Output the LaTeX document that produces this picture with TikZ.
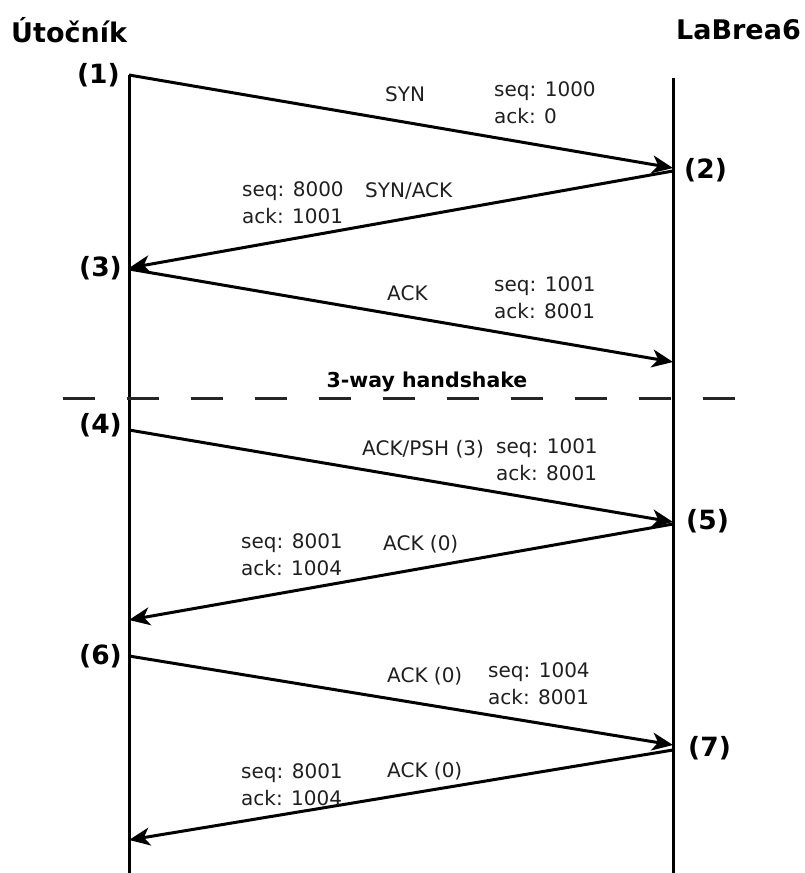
\documentclass[tikz,border=0pt]{standalone}
\usepackage{fontspec}
\setmainfont{DejaVu Sans}
\usetikzlibrary{arrows.meta}
\begin{document}
\begin{tikzpicture}[x=1pt,y=-1pt,
  life/.style={line width=3pt},
  msg/.style={line width=3pt,-{Stealth[length=21pt,width=18pt,inset=6pt]}},
  lbl/.style={font=\fontsize{20}{24}\selectfont,anchor=west,inner sep=0pt,text=black!88},
  num/.style={font=\fontsize{26.5}{30}\selectfont\bfseries,inner sep=0pt},
  ttl/.style={font=\fontsize{27}{32}\selectfont\bfseries,inner sep=0pt}]
\useasboundingbox (0,0) rectangle (804,873);
% lifelines
\coordinate (La) at (129,75);
\coordinate (Lb) at (129,873);
\coordinate (Ra) at (673,78);
\coordinate (Rb) at (673,873);
\draw[life] (La) -- (Lb);
\draw[life] (Ra) -- (Rb);
% titles
\node[ttl,anchor=west] (t1) at (11,30) {Útočník};
\node[ttl,anchor=east] (t2) at (801,30) {LaBrea6};
% message points
\coordinate (p1) at (129,75);
\coordinate (q1) at (673,168);
\coordinate (q2) at (673,171);
\coordinate (p2) at (129,268);
\coordinate (p3) at (129,269);
\coordinate (q3) at (673,362);
\coordinate (p4) at (129,430);
\coordinate (q4) at (673,522);
\coordinate (q5) at (673,524);
\coordinate (p5) at (129,620);
\coordinate (p6) at (129,656);
\coordinate (q6) at (673,745);
\coordinate (q7) at (673,750);
\coordinate (p7) at (129,840);
\draw[msg] (p1) -- (q1);
\draw[msg] (q2) -- (p2);
\draw[msg] (p3) -- (q3);
\draw[msg] (p4) -- (q4);
\draw[msg] (q5) -- (p5);
\draw[msg] (p6) -- (q6);
\draw[msg] (q7) -- (p7);
% step numbers
\node[num,anchor=east] (n1) at (120,75) {(1)};
\node[num,anchor=west] (n2) at (684,170) {(2)};
\node[num,anchor=east] (n3) at (122,268) {(3)};
\node[num,anchor=east] (n4) at (122,425) {(4)};
\node[num,anchor=west] (n5) at (686,521) {(5)};
\node[num,anchor=east] (n6) at (122,656) {(6)};
\node[num,anchor=west] (n7) at (688,748) {(7)};
% handshake separator
\coordinate (d1) at (63,398);
\coordinate (d2) at (737,398);
\draw[line width=3pt,black!85,dash pattern=on 32pt off 32pt] (d1) -- (d2);
\node[font=\fontsize{20.5}{24}\selectfont\bfseries,inner sep=0pt] (hs) at (427,382) {3-way handshake};
% labels 1
\node[lbl] (l1a) at (385,94) {SYN};
\node[lbl] (l1b) at (494,91) {seq: 1000};
\node[lbl] (l1c) at (494,116) {ack: 0};
% labels 2
\node[lbl] (l2a) at (242,191) {seq: 8000};
\node[lbl] (l2b) at (242,216) {ack: 1001};
\node[lbl] (l2c) at (365,191) {SYN/ACK};
% labels 3
\node[lbl] (l3a) at (387,293) {ACK};
\node[lbl] (l3b) at (494,286) {seq: 1001};
\node[lbl] (l3c) at (494,311) {ack: 8001};
% labels 4
\node[lbl] (l4a) at (362,449) {ACK/PSH (3)};
\node[lbl] (l4b) at (496,448) {seq: 1001};
\node[lbl] (l4c) at (496,473) {ack: 8001};
% labels 5
\node[lbl] (l5a) at (241,543) {seq: 8001};
\node[lbl] (l5b) at (241,568) {ack: 1004};
\node[lbl] (l5c) at (383,544) {ACK (0)};
% labels 6
\node[lbl] (l6a) at (387,676) {ACK (0)};
\node[lbl] (l6b) at (488,672) {seq: 1004};
\node[lbl] (l6c) at (488,697) {ack: 8001};
% labels 7
\node[lbl] (l7a) at (241,773) {seq: 8001};
\node[lbl] (l7b) at (241,798) {ack: 1004};
\node[lbl] (l7c) at (387,771) {ACK (0)};
\end{tikzpicture}
\end{document}
